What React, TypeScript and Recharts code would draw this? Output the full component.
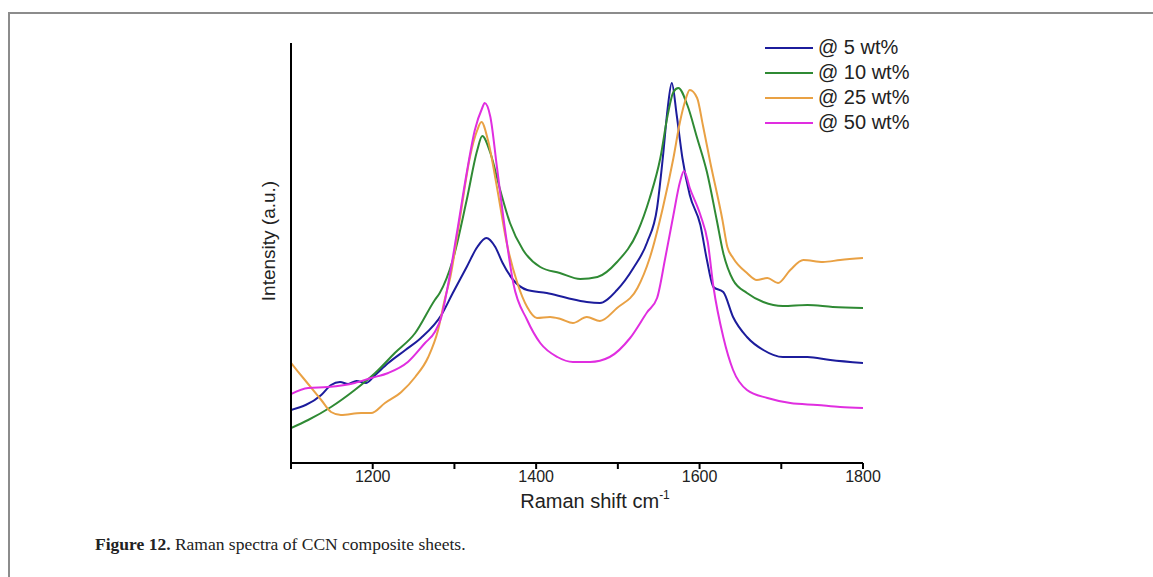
import React from "react";
import { LineChart, Line, XAxis, YAxis } from "recharts";

// Raman shift (cm-1) and intensity (a.u.)
const shift5 = [1100, 1137, 1149, 1160, 1170, 1180, 1192, 1203, 1219, 1240, 1259, 1284, 1298, 1315, 1328, 1339, 1350, 1359, 1372, 1389, 1413, 1438, 1462, 1478, 1499, 1519, 1536, 1548, 1555, 1561, 1566, 1572, 1579, 1588, 1601, 1609, 1617, 1629, 1641, 1658, 1678, 1702, 1732, 1760, 1800];
const int5 = [53, 68, 78, 81, 79, 82, 80, 88, 100, 113, 125, 148, 170, 196, 216, 225, 216, 200, 183, 173, 170, 165, 161, 160, 173, 195, 221, 255, 305, 355, 380, 348, 305, 268, 238, 203, 176, 171, 146, 126, 113, 106, 106, 103, 100];

const shift10 = [1100, 1121, 1149, 1178, 1203, 1227, 1252, 1276, 1282, 1298, 1315, 1328, 1334, 1344, 1356, 1368, 1384, 1405, 1429, 1454, 1475, 1499, 1524, 1539, 1552, 1561, 1568, 1574, 1585, 1597, 1609, 1621, 1629, 1641, 1658, 1678, 1702, 1732, 1763, 1800];
const int10 = [35, 43, 56, 73, 90, 110, 130, 163, 170, 203, 263, 313, 327, 310, 273, 240, 213, 196, 190, 184, 186, 201, 231, 265, 305, 348, 371, 375, 358, 325, 291, 243, 210, 183, 170, 161, 157, 158, 156, 155];

const shift25 = [1100, 1117, 1137, 1149, 1161, 1186, 1198, 1215, 1235, 1252, 1268, 1280, 1288, 1295, 1307, 1319, 1328, 1333, 1341, 1352, 1364, 1377, 1389, 1401, 1417, 1430, 1445, 1462, 1478, 1499, 1524, 1539, 1555, 1568, 1576, 1582, 1588, 1597, 1604, 1613, 1628, 1634, 1641, 1658, 1670, 1683, 1696, 1711, 1727, 1751, 1772, 1800];
const int25 = [100, 83, 63, 51, 48, 50, 50, 60, 71, 86, 106, 133, 163, 186, 246, 306, 333, 341, 323, 276, 220, 180, 156, 145, 146, 144, 140, 146, 142, 155, 175, 205, 255, 305, 341, 361, 373, 365, 338, 301, 243, 216, 205, 190, 183, 185, 180, 193, 203, 201, 203, 205];

const shift50 = [1100, 1121, 1145, 1178, 1198, 1219, 1243, 1264, 1276, 1284, 1291, 1303, 1315, 1325, 1334, 1337, 1344, 1352, 1362, 1372, 1389, 1405, 1426, 1445, 1466, 1490, 1515, 1536, 1548, 1558, 1568, 1576, 1581, 1588, 1601, 1610, 1617, 1629, 1641, 1658, 1683, 1711, 1744, 1772, 1800];
const int50 = [69, 75, 76, 80, 85, 90, 101, 120, 131, 146, 173, 230, 290, 333, 355, 360, 346, 296, 233, 180, 143, 120, 106, 101, 101, 106, 125, 151, 165, 205, 248, 281, 292, 275, 248, 221, 176, 126, 93, 73, 65, 60, 58, 56, 55];

const xTicks = [1100, 1200, 1300, 1400, 1500, 1600, 1700, 1800];
const xLabels = [1200, 1400, 1600, 1800];

const zip = (xs: number[], ys: number[]) => xs.map((x, i) => ({ x, y: ys[i] }));

const series = [
  { name: "@ 5 wt%", color: "#1c1c9c", data: zip(shift5, int5) },
  { name: "@ 10 wt%", color: "#2f8a34", data: zip(shift10, int10) },
  { name: "@ 25 wt%", color: "#e9a144", data: zip(shift25, int25) },
  { name: "@ 50 wt%", color: "#e02ee0", data: zip(shift50, int50) },
];

const FONT = '"Liberation Sans", Arial, sans-serif';

function XTick(props: any) {
  const { x, y, payload } = props;
  if (!xLabels.includes(payload.value)) return <g />;
  return (
    <text x={x} y={y} dy="0.71em" textAnchor="middle" fontSize={16} fill="#222" fontFamily={FONT}>
      {payload.value}
    </text>
  );
}

function XTitle(props: any) {
  const vb = props.viewBox || { x: 291, y: 463, width: 572 };
  const cx = vb.x + vb.width / 2 + 18;
  return (
    <text x={cx} y={vb.y + 45} textAnchor="middle" fontSize={20} fill="#222" fontFamily={FONT}>
      Raman shift cm
      <tspan fontSize={12} dy={-9}>-1</tspan>
    </text>
  );
}

function YTitle(props: any) {
  const vb = props.viewBox || { x: 290, y: 43, height: 420 };
  const x = vb.x + vb.width - 16;
  const y = vb.y + vb.height / 2 - 12;
  return (
    <text x={x} y={y} transform={`rotate(-90 ${x} ${y})`} textAnchor="middle" fontSize={19} fill="#222" fontFamily={FONT}>
      Intensity (a.u.)
    </text>
  );
}

function LegendBox() {
  return (
    <div style={{ position: "absolute", left: 765, top: 35, fontFamily: FONT }}>
      {series.map((s) => (
        <div key={s.name} style={{ display: "flex", alignItems: "center", height: 25 }}>
          <span style={{ display: "inline-block", width: 48, height: 2, background: s.color }} />
          <span style={{ marginLeft: 5, fontSize: 20, color: "#222", lineHeight: "25px" }}>{s.name}</span>
        </div>
      ))}
    </div>
  );
}

export default function App() {
  return (
    <div style={{ position: "absolute", left: 0, top: 0, width: 1153, height: 577, background: "#fff", overflow: "hidden" }}>
      <div style={{ position: "absolute", left: 8, top: 12, right: 0, bottom: 0, borderTop: "2px solid #8c8c8c", borderLeft: "2px solid #8c8c8c" }} />
      <div style={{ position: "absolute", left: 0, top: 0 }}>
        <LineChart width={1153} height={577} margin={{ top: 43, right: 290, bottom: 84, left: 280 }}>
          <XAxis
            type="number"
            dataKey="x"
            domain={[1100, 1800]}
            ticks={xTicks}
            allowDataOverflow
            height={30}
            stroke="#000"
            strokeWidth={2}
            tickSize={6}
            tick={<XTick />}
            label={{ content: <XTitle /> }}
          />
          <YAxis
            type="number"
            dataKey="y"
            domain={[0, 420]}
            width={11}
            tick={false}
            tickLine={false}
            stroke="#000"
            strokeWidth={2}
            label={{ content: <YTitle /> }}
          />
          {series.map((s) => (
            <Line
              key={s.name}
              data={s.data}
              dataKey="y"
              name={s.name}
              type="monotone"
              stroke={s.color}
              strokeWidth={2}
              dot={false}
              isAnimationActive={false}
            />
          ))}
        </LineChart>
      </div>
      <LegendBox />
      <div style={{ position: "absolute", left: 95, top: 534, fontFamily: '"Liberation Serif", "Times New Roman", serif', fontSize: 17.5, color: "#222" }}>
        <b>Figure 12.</b> Raman spectra of CCN composite sheets.
      </div>
    </div>
  );
}
